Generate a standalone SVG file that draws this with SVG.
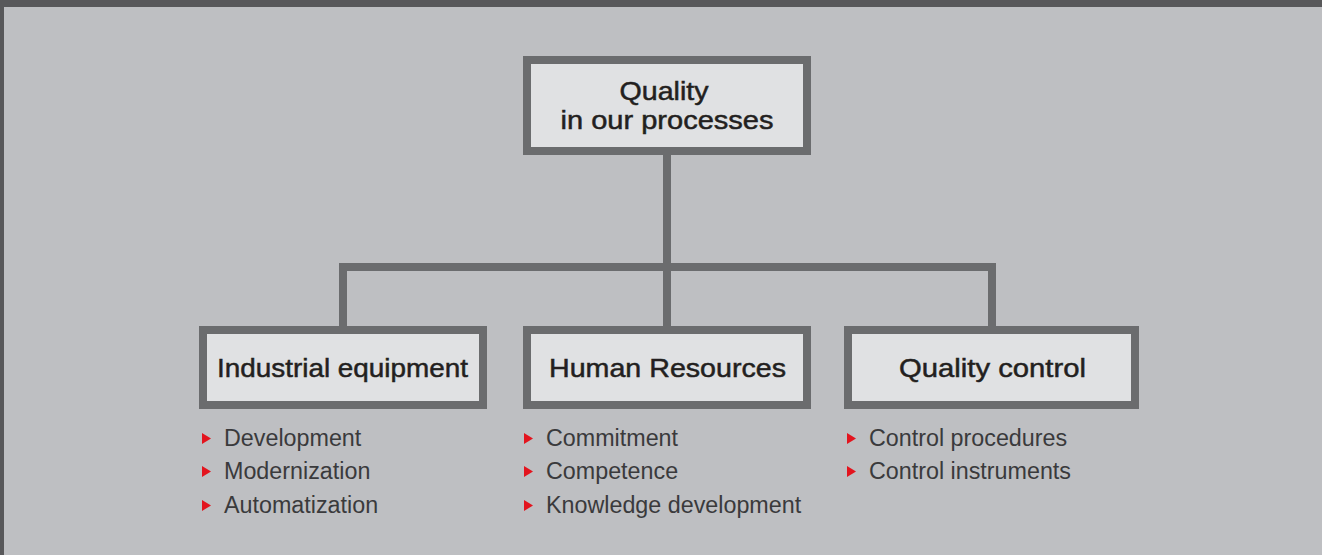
<svg xmlns="http://www.w3.org/2000/svg" width="1322" height="555" viewBox="0 0 1322 555">
<style>
.box{fill:#e0e1e3;stroke:#6b6c6e;stroke-width:8}
.lbl{font-family:"Liberation Sans",Arial,sans-serif;font-size:26.5px;fill:#231f20;stroke:#231f20;stroke-width:0.5;text-anchor:middle}
.item{font-family:"Liberation Sans",Arial,sans-serif;font-size:23.3px;fill:#3a3a3c}
.conn{fill:none;stroke:#6b6c6e;stroke-width:8;stroke-linecap:butt;stroke-linejoin:miter}
.bul{fill:#e3141e}
</style>
<defs>
<polygon id="tri" points="0,0 9,5.5 0,11"/>
</defs>
<rect x="0" y="0" width="1322" height="555" fill="#bebfc2"/>
<rect x="0" y="0" width="1322" height="7" fill="#58585a"/>
<rect x="0" y="0" width="4" height="555" fill="#58585a"/>
<g id="connectors">
<path class="conn" d="M667 155 V267"/>
<path class="conn" d="M343 326 V267 H992 V326"/>
<path class="conn" d="M667 267 V326"/>
</g>
<g id="node-top">
<rect class="box" x="527" y="60" width="280" height="91"/>
<text class="lbl" x="664" y="100" textLength="89" lengthAdjust="spacingAndGlyphs">Quality</text>
<text class="lbl" x="667" y="129" textLength="213" lengthAdjust="spacingAndGlyphs">in our processes</text>
</g>
<g id="node-industrial">
<rect class="box" x="203" y="330" width="280" height="75"/>
<text class="lbl" x="342.5" y="377" textLength="251" lengthAdjust="spacingAndGlyphs">Industrial equipment</text>
<use href="#tri" class="bul" x="202" y="433"/>
<text class="item" x="224" y="446">Development</text>
<use href="#tri" class="bul" x="202" y="466"/>
<text class="item" x="224" y="479">Modernization</text>
<use href="#tri" class="bul" x="202" y="500"/>
<text class="item" x="224" y="513">Automatization</text>
</g>
<g id="node-human">
<rect class="box" x="527" y="330" width="280" height="75"/>
<text class="lbl" x="667.5" y="377" textLength="237" lengthAdjust="spacingAndGlyphs">Human Resources</text>
<use href="#tri" class="bul" x="524" y="433"/>
<text class="item" x="546" y="446">Commitment</text>
<use href="#tri" class="bul" x="524" y="466"/>
<text class="item" x="546" y="479">Competence</text>
<use href="#tri" class="bul" x="524" y="500"/>
<text class="item" x="546" y="513">Knowledge development</text>
</g>
<g id="node-qc">
<rect class="box" x="848" y="330" width="287" height="75"/>
<text class="lbl" x="992.5" y="377" textLength="187" lengthAdjust="spacingAndGlyphs">Quality control</text>
<use href="#tri" class="bul" x="847" y="433"/>
<text class="item" x="869" y="446">Control procedures</text>
<use href="#tri" class="bul" x="847" y="466"/>
<text class="item" x="869" y="479">Control instruments</text>
</g>
</svg>
